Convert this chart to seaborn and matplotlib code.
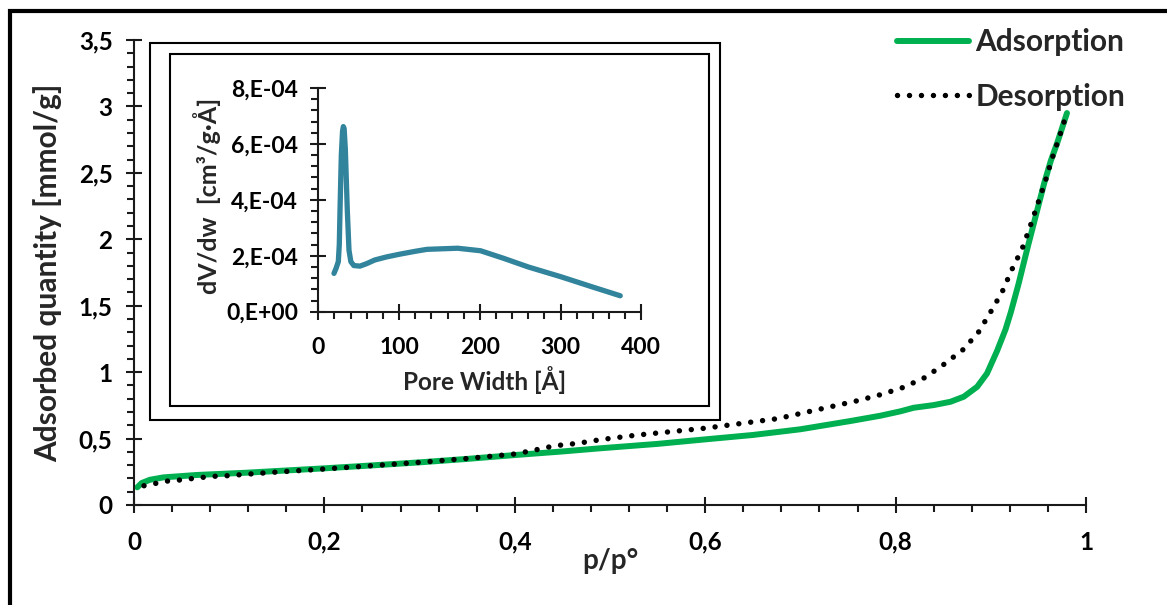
import matplotlib
matplotlib.use('Agg')

import numpy as np
import matplotlib.pyplot as plt
import seaborn as sns
from matplotlib.patches import Rectangle
from matplotlib.ticker import MultipleLocator, FixedLocator, FixedFormatter

# isotherm data
p_ads = [0.0035, 0.008, 0.0168, 0.031, 0.066, 0.118, 0.2, 0.25, 0.3, 0.35, 0.4,
         0.45, 0.49, 0.55, 0.6, 0.65, 0.7, 0.7525, 0.784, 0.805, 0.819, 0.84,
         0.8576, 0.8716, 0.8857, 0.896, 0.9066, 0.9154, 0.921, 0.929, 0.938,
         0.947, 0.956, 0.963, 0.97, 0.975, 0.98]
q_ads = [0.133, 0.165, 0.19, 0.208, 0.226, 0.243, 0.276, 0.298, 0.321, 0.347,
         0.376, 0.403, 0.427, 0.46, 0.494, 0.527, 0.57, 0.632, 0.672, 0.705,
         0.732, 0.752, 0.777, 0.815, 0.89, 0.99, 1.16, 1.32, 1.45, 1.66, 1.92,
         2.17, 2.42, 2.59, 2.73, 2.84, 2.95]

p_des = [0.0105, 0.023, 0.035, 0.048, 0.06, 0.072, 0.084, 0.097, 0.121, 0.15,
         0.2, 0.25, 0.3, 0.35, 0.4, 0.418, 0.442, 0.466, 0.49, 0.528, 0.6, 0.676,
         0.76, 0.785, 0.808, 0.831, 0.851, 0.871, 0.887, 0.9, 0.912, 0.922,
         0.933, 0.941, 0.949, 0.957, 0.964, 0.972, 0.979]
q_des = [0.145, 0.163, 0.18, 0.188, 0.198, 0.208, 0.216, 0.22, 0.233, 0.248,
         0.271, 0.296, 0.321, 0.35, 0.384, 0.409, 0.446, 0.464, 0.492, 0.526,
         0.578, 0.65, 0.785, 0.832, 0.885, 0.96, 1.06, 1.17, 1.30, 1.455, 1.605,
         1.77, 1.93, 2.09, 2.26, 2.43, 2.60, 2.77, 2.93]

# pore size distribution (inset)
pore_w = [19.4, 22, 24.8, 26.0, 26.9, 28.5, 30, 31, 32, 33.5, 35.9, 38, 40.3,
          44, 51.6, 60, 70, 84.7, 101.4, 120, 134.6, 172.5, 200.9, 229.4, 260,
          300.4, 340, 373.9]
dvdw = np.array([1.37, 1.55, 1.79, 2.4, 3.64, 5.6, 6.45, 6.62, 6.55, 5.8, 3.64,
                 2.2, 1.79, 1.65, 1.63, 1.72, 1.85, 1.96, 2.06, 2.16, 2.23, 2.27,
                 2.18, 1.91, 1.6, 1.25, 0.88, 0.57]) * 1e-4

x_ticks = [0, 0.2, 0.4, 0.6, 0.8, 1]
x_labels = ['0', '0,2', '0,4', '0,6', '0,8', '1']
y_ticks = [0, 0.5, 1, 1.5, 2, 2.5, 3, 3.5]
y_labels = ['0', '0,5', '1', '1,5', '2', '2,5', '3', '3,5']
in_x_ticks = [0, 100, 200, 300, 400]
in_x_labels = ['0', '100', '200', '300', '400']
in_y_ticks = [0, 2e-4, 4e-4, 6e-4, 8e-4]
in_y_labels = ['0,E+00', '2,E-04', '4,E-04', '6,E-04', '8,E-04']

sns.set_theme(style='white')
plt.rcParams['font.family'] = ['Lato', 'DejaVu Sans']
plt.rcParams['font.weight'] = 'bold'

W, H = 1167, 605
fig = plt.figure(figsize=(W / 100, H / 100), dpi=100)
fig.patch.set_facecolor('white')

def fx(px):
    return px / W

def fy(py):
    return 1 - py / H

green = '#00B050'
teal = '#31849B'
spine_c = '#1a1a1a'


def style_axes(ax, fs):
    sns.despine(ax=ax)
    for s in ['left', 'bottom']:
        ax.spines[s].set_color(spine_c)
        ax.spines[s].set_linewidth(1.5)
    ax.tick_params(which='major', direction='inout', length=11, width=1.5,
                   color=spine_c, labelsize=fs, labelcolor='black')
    ax.tick_params(which='minor', direction='out', length=5, width=1.5,
                   color=spine_c)
    ax.tick_params(axis='x', which='both', bottom=True)
    ax.tick_params(axis='y', which='both', left=True)
    ax.grid(False)
    ax.set_facecolor('none')


# main axes
ax = fig.add_axes([fx(134), fy(505), fx(1086) - fx(134), fy(40) - fy(505)])
sns.lineplot(x=p_ads, y=q_ads, ax=ax, color=green, linewidth=4.3,
             label='Adsorption', solid_capstyle='round', solid_joinstyle='round')
sns.lineplot(x=p_des, y=q_des, ax=ax, color='black', linewidth=3.9,
             linestyle=(0, (0.01, 2.2)), dash_capstyle='round',
             label='Desorption')
ax.set_xlim(0, 1)
ax.set_ylim(0, 3.5)
style_axes(ax, 17.5)
ax.xaxis.set_major_locator(FixedLocator(x_ticks))
ax.xaxis.set_major_formatter(FixedFormatter(x_labels))
ax.xaxis.set_minor_locator(MultipleLocator(0.04))
ax.yaxis.set_major_locator(FixedLocator(y_ticks))
ax.yaxis.set_major_formatter(FixedFormatter(y_labels))
ax.yaxis.set_minor_locator(MultipleLocator(0.1))
ax.tick_params(axis='x', pad=13)
ax.tick_params(axis='y', pad=10)
ax.set_xlabel('p/p°', fontsize=20, fontweight='bold')
ax.set_ylabel('Adsorbed quantity [mmol/g]', fontsize=21.5, fontweight='bold')
ax.xaxis.set_label_coords(0.5, -0.093)
ax.yaxis.set_label_coords(-0.075, 0.5)

leg = ax.legend(loc='upper left', bbox_to_anchor=(fx(897), fy(28)),
                bbox_transform=fig.transFigure, frameon=False, fontsize=21.5,
                handlelength=2.4, handletextpad=0.23, labelspacing=0.9,
                borderpad=0, borderaxespad=0)
for t in leg.get_texts():
    t.set_fontweight('bold')

# inset boxes
fig.add_artist(Rectangle((fx(149.5), fy(420)), fx(720) - fx(149.5), fy(43) - fy(420),
                         transform=fig.transFigure, fill=False, lw=1.5,
                         edgecolor='black'))
fig.add_artist(Rectangle((fx(170), fy(406)), fx(709) - fx(170), fy(54) - fy(406),
                         transform=fig.transFigure, fill=False, lw=1.5,
                         edgecolor='black'))

# outer frame
fig.add_artist(Rectangle((fx(9.5), -0.2), 1.3, fy(11) + 0.2,
                         transform=fig.transFigure, fill=False, lw=3,
                         edgecolor='black'))

# inset axes
ins = fig.add_axes([fx(318.3), fy(311.7), fx(641.3) - fx(318.3), fy(88) - fy(311.7)])
sns.lineplot(x=pore_w, y=dvdw, ax=ins, color=teal, linewidth=3.8,
             solid_capstyle='round', solid_joinstyle='round')
ins.set_xlim(0, 400)
ins.set_ylim(0, 8e-4)
style_axes(ins, 16.5)
ins.xaxis.set_major_locator(FixedLocator(in_x_ticks))
ins.xaxis.set_major_formatter(FixedFormatter(in_x_labels))
ins.xaxis.set_minor_locator(MultipleLocator(20))
ins.yaxis.set_major_locator(FixedLocator(in_y_ticks))
ins.yaxis.set_major_formatter(FixedFormatter(in_y_labels))
ins.yaxis.set_minor_locator(MultipleLocator(0.4e-4))
ins.tick_params(axis='x', pad=13)
ins.tick_params(axis='y', pad=9)
ins.set_xlabel('Pore Width [Å]', fontsize=17.5, fontweight='bold')
ins.set_ylabel('dV/dw  [cm³/g·Å]', fontsize=18, fontweight='bold')
ins.xaxis.set_label_coords(0.516, -0.245)
ins.yaxis.set_label_coords(-0.30, 0.52)

fig.savefig('out.png', dpi=100)
